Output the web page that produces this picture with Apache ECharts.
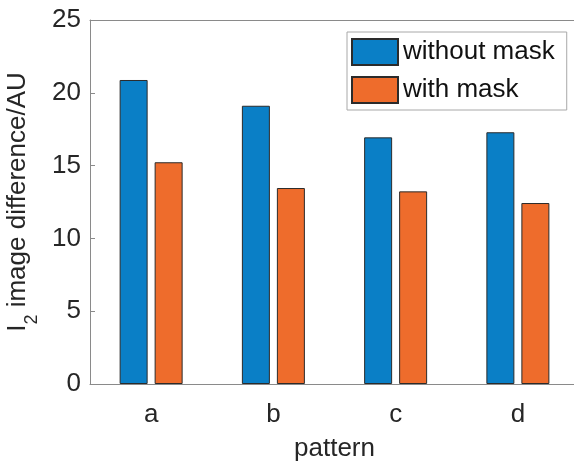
<!DOCTYPE html>
<html>
<head>
<meta charset="utf-8">
<script src="https://cdn.jsdelivr.net/npm/echarts@6/dist/echarts.min.js"></script>
<style>html,body{margin:0;padding:0;background:#fff}#c{width:574px;height:463px}</style>
</head>
<body>
<div id="c"></div>
<script>
const categories = ['a', 'b', 'c', 'd'];
const withoutMask = [20.88, 19.11, 16.94, 17.29];
const withMask = [15.23, 13.46, 13.23, 12.43];
const yTicks = [0, 5, 10, 15, 20, 25];

const FONT = '"Liberation Sans", Arial, Helvetica, sans-serif';
const TXT = '#262626';
const AX = '#8a8a8a';

const chart = echarts.init(document.getElementById('c'));
chart.setOption({
  animation: false,
  backgroundColor: '#fff',
  textStyle: { fontFamily: FONT },
  grid: { left: 90, top: 20, right: -5, bottom: 79, containLabel: false, outerBoundsMode: 'none' },
  legend: {
    left: 347, top: 32,
    orient: 'vertical',
    itemWidth: 46, itemHeight: 26, itemGap: 10,
    padding: [6, 12, 6, 4],
    borderColor: '#a8a8a8', borderWidth: 1, backgroundColor: '#fff',
    textStyle: { fontSize: 26, color: '#111', fontFamily: FONT },
    icon: 'rect',
    data: ['without mask', 'with mask']
  },
  xAxis: [{
    type: 'category', data: categories, position: 'bottom',
    name: 'pattern', nameLocation: 'middle', nameGap: 52,
    nameTextStyle: { fontSize: 26, color: TXT, fontFamily: FONT },
    axisLine: { lineStyle: { color: AX, width: 1 } },
    axisTick: { inside: true, length: 5, alignWithLabel: true, lineStyle: { color: AX } },
    axisLabel: { fontSize: 26, color: TXT, margin: 18, fontFamily: FONT }
  }, {
    type: 'category', data: categories, position: 'top',
    axisLine: { lineStyle: { color: AX, width: 1 } },
    axisTick: { inside: true, length: 5, alignWithLabel: true, lineStyle: { color: AX } },
    axisLabel: { show: false }
  }],
  yAxis: {
    type: 'value', min: 0, max: 25, interval: 5,
    name: '{i|I}{s|2}{n| image difference/AU}',
    nameLocation: 'middle', nameGap: 46, nameRotate: 90,
    nameTextStyle: {
      color: TXT, fontFamily: FONT,
      rich: {
        i: { fontSize: 26, color: TXT, fontFamily: FONT, lineHeight: 30, verticalAlign: 'bottom' },
        s: { fontSize: 18, color: TXT, fontFamily: FONT, lineHeight: 30, verticalAlign: 'bottom', padding: [0, 0, -10, 0] },
        n: { fontSize: 26, color: TXT, fontFamily: FONT, lineHeight: 30, verticalAlign: 'bottom' }
      }
    },
    splitLine: { show: false },
    axisLine: { show: true, lineStyle: { color: AX, width: 1 } },
    axisTick: { show: true, inside: true, length: 5, lineStyle: { color: AX } },
    axisLabel: {
      fontSize: 26, color: TXT, margin: 9, fontFamily: FONT, padding: [7, 0, 0, 0],
      formatter: v => (yTicks.includes(v) ? String(v) : '')
    }
  },
  series: [{
    name: 'without mask', type: 'bar', data: withoutMask,
    barWidth: 28, barGap: '25%',
    itemStyle: { color: '#0A7FC6', borderColor: '#2b2b2b', borderWidth: 1 }
  }, {
    name: 'with mask', type: 'bar', data: withMask,
    barWidth: 28,
    itemStyle: { color: '#EE6C2C', borderColor: '#2b2b2b', borderWidth: 1 }
  }]
});
</script>
</body>
</html>
